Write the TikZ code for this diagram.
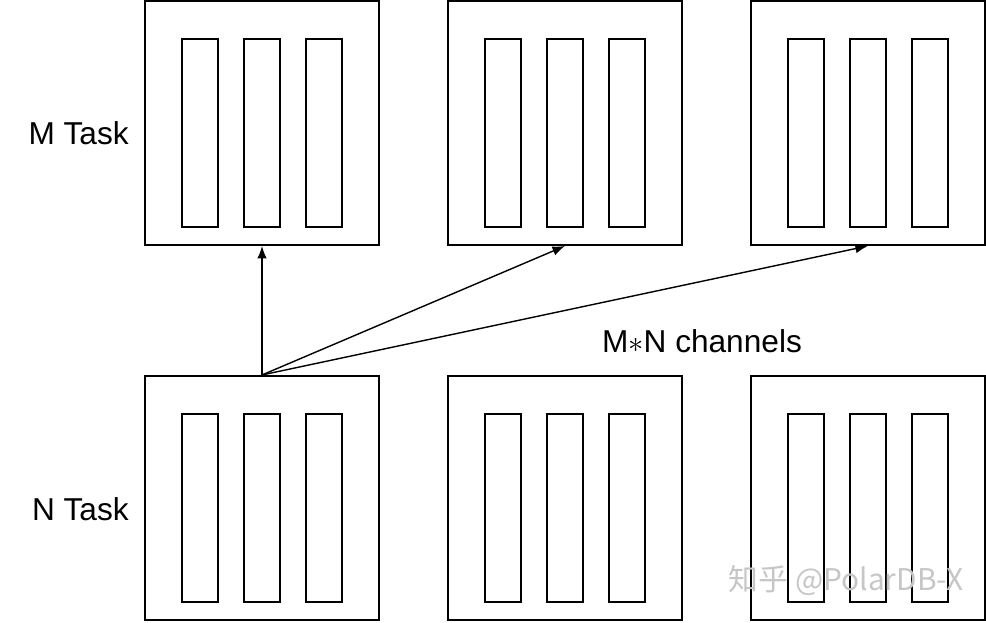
\documentclass[tikz,border=0pt]{standalone}
\usepackage{fontspec}
\setmainfont{Liberation Sans}
\newfontfamily\cjkfont{Noto Sans CJK SC}
\usepackage{xcolor}
\usepackage{tikz}
\usetikzlibrary{arrows.meta, positioning}
\tikzset{
  taskbox/.style = {
    rectangle, draw=black, line width=1.1pt,
    minimum width=4.68cm, minimum height=4.88cm, inner sep=0pt
  },
  slot/.style = {
    rectangle, draw=black, line width=1.1pt,
    minimum width=0.72cm, minimum height=3.76cm, inner sep=0pt
  },
  lbl/.style = {font=\fontsize{18}{21}\selectfont, inner sep=0pt},
  arrow/.style = {-{Latex[length=2.5mm, width=1.9mm]}, line width=0.8pt}
}

\begin{document}
\begin{tikzpicture}

\useasboundingbox (0,0) rectangle (19.72,-12.44);

%% M tasks (top row)
\node[taskbox] (m1) at (5.24,-2.46) {};
\node[taskbox, right=1.34cm of m1] (m2) {};
\node[taskbox, right=1.34cm of m2] (m3) {};

%% N tasks (bottom row)
\node[taskbox, below=2.58cm of m1] (n1) {};
\node[taskbox, below=2.58cm of m2] (n2) {};
\node[taskbox, below=2.58cm of m3] (n3) {};

%% slots
\node[slot] (m1a) at ([xshift=-1.24cm, yshift=-0.2cm]m1.center) {};
\node[slot] (m1b) at ([yshift=-0.2cm]m1.center) {};
\node[slot] (m1c) at ([xshift=1.24cm, yshift=-0.2cm]m1.center) {};
\node[slot] (m2a) at ([xshift=-1.24cm, yshift=-0.2cm]m2.center) {};
\node[slot] (m2b) at ([yshift=-0.2cm]m2.center) {};
\node[slot] (m2c) at ([xshift=1.24cm, yshift=-0.2cm]m2.center) {};
\node[slot] (m3a) at ([xshift=-1.24cm, yshift=-0.2cm]m3.center) {};
\node[slot] (m3b) at ([yshift=-0.2cm]m3.center) {};
\node[slot] (m3c) at ([xshift=1.24cm, yshift=-0.2cm]m3.center) {};
\node[slot] (n1a) at ([xshift=-1.24cm, yshift=-0.2cm]n1.center) {};
\node[slot] (n1b) at ([yshift=-0.2cm]n1.center) {};
\node[slot] (n1c) at ([xshift=1.24cm, yshift=-0.2cm]n1.center) {};
\node[slot] (n2a) at ([xshift=-1.24cm, yshift=-0.2cm]n2.center) {};
\node[slot] (n2b) at ([yshift=-0.2cm]n2.center) {};
\node[slot] (n2c) at ([xshift=1.24cm, yshift=-0.2cm]n2.center) {};
\node[slot] (n3a) at ([xshift=-1.24cm, yshift=-0.2cm]n3.center) {};
\node[slot] (n3b) at ([yshift=-0.2cm]n3.center) {};
\node[slot] (n3c) at ([xshift=1.24cm, yshift=-0.2cm]n3.center) {};

%% labels
\node[lbl, left=0.3cm of m1, yshift=-0.2cm] (mlbl) {M Task};
\node[lbl, left=0.3cm of n1, yshift=-0.22cm] (nlbl) {N Task};
\node[lbl] (chan) at (14.04,-6.82) {M$\ast$N channels};

%% channels
\draw[arrow] (n1.north)--(m1.south);
\draw[arrow] (n1.north)--(m2.south);
\draw[arrow] (n1.north)--(m3.south);

%% watermark
\node[font=\cjkfont\fontsize{17}{20}\selectfont, text=gray!45, inner sep=0pt]
  (wm) at (16.92,-11.62) {知乎 @PolarDB-X};

\end{tikzpicture}
\end{document}
